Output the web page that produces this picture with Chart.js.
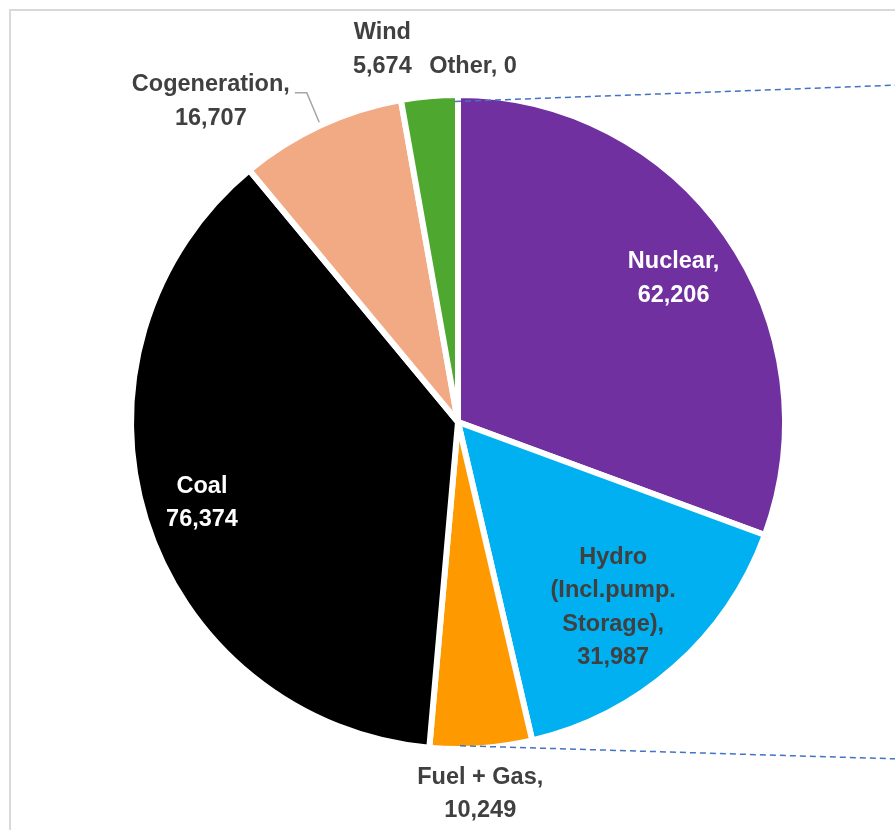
<!DOCTYPE html>
<html>
<head>
<meta charset="utf-8">
<title>Generation mix</title>
<script src="https://cdn.jsdelivr.net/npm/chart.js@4.4.1/dist/chart.umd.min.js"></script>
<style>
    html, body { margin: 0; padding: 0; background: #fff; overflow: hidden; }
    #wrap { position: relative; width: 895px; height: 830px; }
    #frame {
        position: absolute; left: 9px; top: 9px; width: 1000px; height: 1000px;
        border-left: 2px solid #d9d9d9; border-top: 2px solid #d9d9d9;
    }
    #chart { position: absolute; left: 0; top: 0; }
</style>
</head>
<body>
<div id="wrap">
    <div id="frame"></div>
    <canvas id="chart" width="895" height="830"></canvas>
</div>
<script>
    // Installed capacity by source
    const categories = ['Nuclear', 'Hydro (Incl.pump. Storage)', 'Fuel + Gas', 'Coal', 'Cogeneration', 'Wind', 'Other'];
    const values = [62206, 31987, 10249, 76374, 16707, 5674, 0];
    const labelLines = [
        ['Nuclear,', '62,206'],
        ['Hydro', '(Incl.pump.', 'Storage),', '31,987'],
        ['Fuel + Gas,', '10,249'],
        ['Coal', '76,374'],
        ['Cogeneration,', '16,707'],
        ['Wind', '5,674'],
        ['Other, 0'],
    ];
    const colors = ['#7030A0', '#00B0F0', '#FF9900', '#000000', '#F2AA84', '#4EA72E', '#A5A5A5'];

    // label placement: radius factor along the mid angle, then a nudge
    const labelStyle = [
        { f: 0.80, dx: 1, dy: 6, color: '#ffffff' },
        { f: 0.74, dx: -5, dy: 4, color: '#404040' },
        { f: 1.14, dx: -4, dy: 0, color: '#404040' },
        { f: 0.82, dx: 0, dy: 1, color: '#ffffff' },
        { f: 1.10, dx: -96, dy: 6, color: '#404040', leader: true },
        { f: 1.14, dx: -43, dy: -1, color: '#404040' },
        { f: 1.08, dx: 15, dy: -2, color: '#404040' },
    ];

    const FONT = 'bold 23.5px "Liberation Sans", Arial, sans-serif';
    const LINE_H = 33.5;

    const labelPlugin = {
        id: 'sliceLabels',
        afterDatasetsDraw(chart) {
            const ctx = chart.ctx;
            const arcs = chart.getDatasetMeta(0).data;
            ctx.save();
            ctx.font = FONT;
            ctx.textAlign = 'center';
            ctx.textBaseline = 'middle';
            arcs.forEach((arc, i) => {
                const st = labelStyle[i];
                const lines = labelLines[i];
                const mid = (arc.startAngle + arc.endAngle) / 2;
                const r = arc.outerRadius;
                const x = arc.x + Math.cos(mid) * r * st.f + st.dx;
                const y = arc.y + Math.sin(mid) * r * st.f + st.dy;
                const top = y - (lines.length - 1) * LINE_H / 2;
                ctx.fillStyle = st.color;
                lines.forEach((ln, k) => ctx.fillText(ln, x, top + k * LINE_H));

                if (st.leader) {
                    const w = ctx.measureText(lines[0]).width;
                    const sx = x + w / 2 + 5;
                    const sy = top + 8;
                    const ex = arc.x + Math.cos(mid) * r * 1.01;
                    const ey = arc.y + Math.sin(mid) * r * 1.01;
                    ctx.strokeStyle = '#A6A6A6';
                    ctx.lineWidth = 1.5;
                    ctx.beginPath();
                    ctx.moveTo(sx, sy);
                    ctx.lineTo(sx + 12, sy);
                    ctx.lineTo(ex, ey);
                    ctx.stroke();
                }
            });
            ctx.restore();
        },
    };

    // series lines running off toward the secondary pie
    const connectorPlugin = {
        id: 'connectors',
        afterDatasetsDraw(chart) {
            const ctx = chart.ctx;
            const arc = chart.getDatasetMeta(0).data[0];
            const r = arc.outerRadius;
            const edge = chart.width;
            ctx.save();
            ctx.strokeStyle = '#4472C4';
            ctx.lineWidth = 1.5;
            ctx.setLineDash([6, 4]);
            ctx.beginPath();
            ctx.moveTo(arc.x - 3, arc.y - r * 0.98);
            ctx.lineTo(edge, arc.y - r * 1.03);
            ctx.moveTo(arc.x + 2, arc.y + r * 0.99);
            ctx.lineTo(edge, arc.y + r * 1.03);
            ctx.stroke();
            ctx.restore();
        },
    };

    new Chart(document.getElementById('chart'), {
        type: 'pie',
        data: {
            labels: categories,
            datasets: [{
                data: values,
                backgroundColor: colors,
                borderColor: '#ffffff',
                borderWidth: 6,
                borderJoinStyle: 'miter',
            }],
        },
        options: {
            responsive: false,
            animation: false,
            radius: 327,
            layout: { padding: { left: 133, right: 112, top: 97, bottom: 83 } },
            plugins: {
                legend: { display: false },
                tooltip: { enabled: false },
            },
        },
        plugins: [connectorPlugin, labelPlugin],
    });
</script>
</body>
</html>
